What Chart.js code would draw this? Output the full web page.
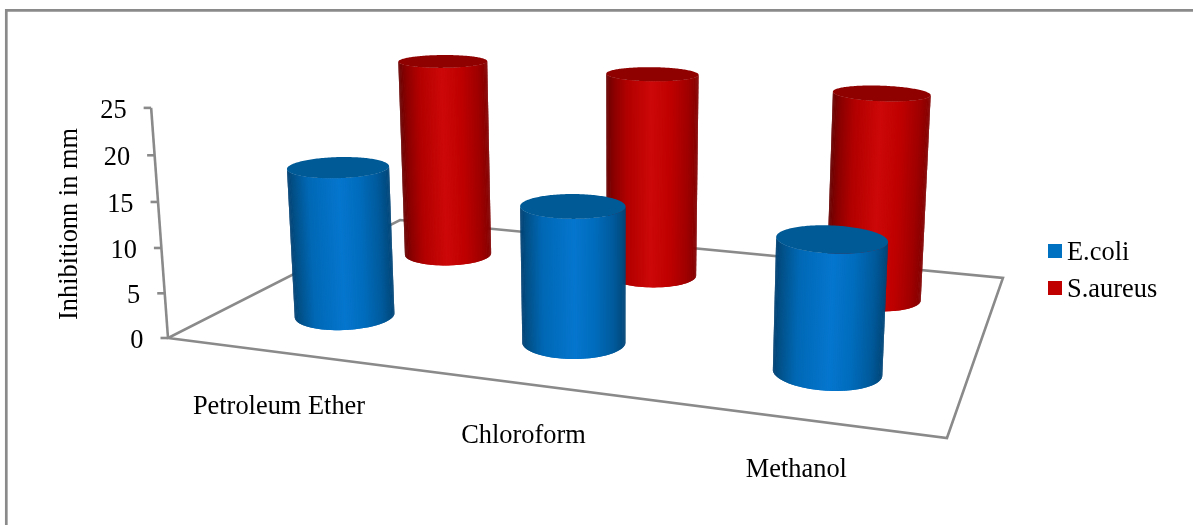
<!DOCTYPE html>
<html>
<head>
<meta charset="utf-8">
<title>Inhibition chart</title>
<script src="https://cdn.jsdelivr.net/npm/chart.js@4"></script>
<style>
  html, body { margin: 0; padding: 0; background: #fff; }
  canvas { display: block; }
</style>
</head>
<body>
<canvas id="chart" width="1193" height="525"></canvas>
<script>
const categories = ['Petroleum Ether', 'Chloroform', 'Methanol'];
const ecoliValues = [17, 15, 14];
const saureusValues = [25, 25, 24.4];
const yTicks = [0, 5, 10, 15, 20, 25];
const axisTitle = 'Inhibitionn in mm';

const FONT = '26.4px "Liberation Serif"';
const GREY = '#8a8a8a';

// floor corners and the vertical vanishing point give a camera: (u, v, t) -> screen
const cam = {
    a: 635.4, b: 354.4, c: 168,
    d: 33.6, e: -50.7, f: 338,
    g: -0.1516, h: 0.3060,
    tx: -22.3, ty: -234, tw: -0.036
};

function project(u, v, t) {
    const w = cam.g * u + cam.h * v + 1 + cam.tw * t;
    return {
        x: (cam.a * u + cam.b * v + cam.c + cam.tx * t) / w,
        y: (cam.d * u + cam.e * v + cam.f + cam.ty * t) / w
    };
}

// depth slot of each series on the floor, and the cylinder radius in floor units
const depth = [0.25, 0.75];
const radiusU = 0.067;
const radiusV = 0.1;
const RING = 180;

// baseline drop of each category label under the front edge
const labelDrop = [61.5, 58.8, 57.8];

const shades = [
    { cap: '#005a96', stops: [[0, [1, 65, 115]], [0.05, [2, 80, 135]], [0.2, [0, 104, 181]], [0.5, [5, 118, 206]], [0.7, [0, 108, 188]], [0.88, [0, 90, 155]], [1, [0, 70, 120]]] },
    { cap: '#8f0000', stops: [[0, [105, 0, 0]], [0.08, [140, 0, 0]], [0.22, [178, 0, 0]], [0.48, [205, 8, 8]], [0.7, [190, 0, 0]], [0.88, [160, 0, 0]], [1, [130, 0, 0]]] }
];

function shadeAt(stops, p) {
    for (let i = 1; i < stops.length; i++) {
        if (p <= stops[i][0]) {
            const k = (p - stops[i - 1][0]) / (stops[i][0] - stops[i - 1][0]);
            const c = stops[i - 1][1].map((s, n) => Math.round(s + (stops[i][1][n] - s) * k));
            return `rgb(${c[0]},${c[1]},${c[2]})`;
        }
    }
    const last = stops[stops.length - 1][1];
    return `rgb(${last[0]},${last[1]},${last[2]})`;
}

function ring(u, v, t) {
    const pts = [];
    for (let i = 0; i < RING; i++) {
        const a = i / RING * 2 * Math.PI;
        pts.push(project(u + radiusU * Math.cos(a), v + radiusV * Math.sin(a), t));
    }
    return pts;
}

function fillRing(ctx, pts, color) {
    ctx.beginPath();
    pts.forEach((p, i) => i ? ctx.lineTo(p.x, p.y) : ctx.moveTo(p.x, p.y));
    ctx.closePath();
    ctx.fillStyle = color;
    ctx.fill();
}

function drawCylinder(ctx, u, v, t, shade) {
    const base = ring(u, v, 0);
    const top = ring(u, v, t);
    let iL = 0, iR = 0;
    base.forEach((p, i) => {
        if (p.x < base[iL].x) iL = i;
        if (p.x > base[iR].x) iR = i;
    });
    // strips from the left silhouette round the front to the right silhouette
    const span = base[iR].x - base[iL].x;
    for (let i = iL; i % RING !== iR; i++) {
        const n0 = i % RING;
        const n1 = (i + 2) % RING;
        const p = Math.max(0, Math.min(1, (base[n0].x - base[iL].x) / span));
        ctx.beginPath();
        ctx.moveTo(base[n0].x, base[n0].y);
        ctx.lineTo(base[n1].x, base[n1].y);
        ctx.lineTo(top[n1].x, top[n1].y);
        ctx.lineTo(top[n0].x, top[n0].y);
        ctx.closePath();
        ctx.fillStyle = shadeAt(shade.stops, p);
        ctx.fill();
    }
    fillRing(ctx, top, shade.cap);
}

function line(ctx, x1, y1, x2, y2) {
    ctx.beginPath();
    ctx.moveTo(x1, y1);
    ctx.lineTo(x2, y2);
    ctx.stroke();
}

const scene3d = {
    id: 'scene3d',
    beforeDatasetsDraw(chart) {
        const ctx = chart.ctx;
        const x = chart.scales.x;
        const y = chart.scales.y;
        const fullHeight = y.getPixelForValue(0) - y.getPixelForValue(25);
        const heightOf = (value) => (y.getPixelForValue(0) - y.getPixelForValue(value)) / fullHeight;
        const uOf = (px) => (px - chart.chartArea.left) / chart.chartArea.width;

        ctx.save();

        // outer frame
        ctx.strokeStyle = GREY;
        ctx.lineWidth = 2.7;
        ctx.beginPath();
        ctx.moveTo(6.3, 525);
        ctx.lineTo(6.3, 10.3);
        ctx.lineTo(1193, 10.3);
        ctx.stroke();

        // floor outline
        ctx.lineWidth = 2.6;
        const corners = [project(0, 0, 0), project(1, 0, 0), project(1, 1, 0), project(0, 1, 0)];
        ctx.beginPath();
        corners.forEach((p, i) => i ? ctx.lineTo(p.x, p.y) : ctx.moveTo(p.x, p.y));
        ctx.closePath();
        ctx.lineJoin = 'miter';
        ctx.stroke();

        // value axis, ticks and labels
        const axisBottom = project(0, 0, 0);
        const axisTop = project(0, 0, 1);
        line(ctx, axisBottom.x, axisBottom.y, axisTop.x, axisTop.y);
        ctx.font = FONT;
        ctx.fillStyle = '#000';
        ctx.textAlign = 'right';
        ctx.textBaseline = 'alphabetic';
        yTicks.forEach((tick) => {
            const p = project(0, 0, heightOf(tick));
            line(ctx, p.x - 7.5, p.y, p.x, p.y);
            ctx.fillText(String(tick), p.x - 24.5, p.y + 10);
        });

        // category labels below the front edge
        ctx.textAlign = 'center';
        categories.forEach((label, i) => {
            const p = project(uOf(x.getPixelForTick(i)), 0, 0);
            ctx.fillText(label, p.x - 2, p.y + labelDrop[i]);
        });

        // axis title
        ctx.save();
        ctx.translate(76.7, 224);
        ctx.rotate(-Math.PI / 2);
        ctx.fillText(axisTitle, 0, 0);
        ctx.restore();

        // cylinders, back row first
        for (let ds = chart.data.datasets.length - 1; ds >= 0; ds--) {
            chart.getDatasetMeta(ds).data.forEach((bar) => {
                drawCylinder(ctx, uOf(bar.x), depth[ds], (bar.base - bar.y) / fullHeight, shades[ds]);
            });
        }

        // legend
        ctx.textAlign = 'left';
        chart.data.datasets.forEach((dataset, i) => {
            const rowY = 244 + i * 37;
            ctx.fillStyle = dataset.backgroundColor;
            ctx.fillRect(1048, rowY, 14, 14);
            ctx.fillStyle = '#000';
            ctx.fillText(dataset.label, 1067, rowY + 16);
        });

        ctx.restore();
        return false; // the flat bars stay undrawn, the cylinders replace them
    }
};

new Chart(document.getElementById('chart'), {
    type: 'bar',
    data: {
        labels: categories,
        datasets: [
            { label: 'E.coli', data: ecoliValues, backgroundColor: '#0070c0' },
            { label: 'S.aureus', data: saureusValues, backgroundColor: '#c00000' }
        ]
    },
    options: {
        responsive: false,
        animation: false,
        events: [],
        datasets: { bar: { grouped: false } },
        layout: { padding: { left: 60, right: 60, top: 40, bottom: 40 } },
        plugins: {
            legend: { display: false },
            tooltip: { enabled: false }
        },
        scales: {
            x: { display: false },
            y: { display: false, min: 0, max: 25, ticks: { stepSize: 5 } }
        }
    },
    plugins: [scene3d]
});
</script>
</body>
</html>
